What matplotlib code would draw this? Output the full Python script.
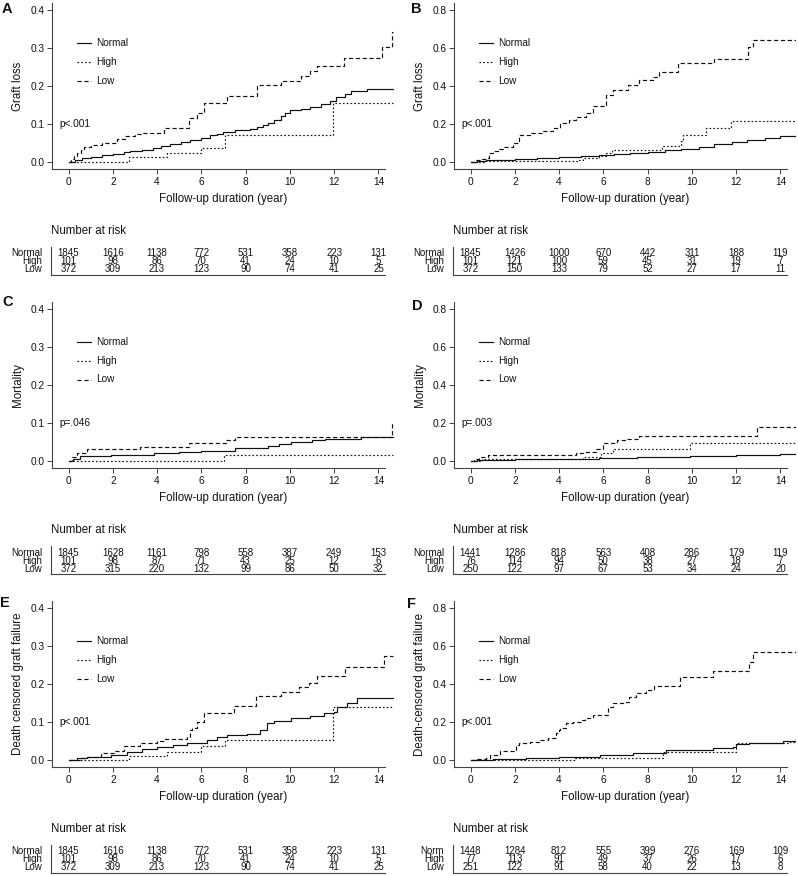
import matplotlib
matplotlib.use("Agg")
import matplotlib.pyplot as plt
from matplotlib import transforms
from matplotlib.lines import Line2D

plt.rcParams['font.family'] = ['Liberation Sans', 'DejaVu Sans']

# step curves: (year, cumulative incidence)
a_normal = [(0, 0), (0.3, 0.005), (0.6, 0.01), (1.0, 0.014), (1.5, 0.018), (2.0, 0.022), (2.5, 0.026),
            (2.8, 0.029), (3.3, 0.032), (3.8, 0.037), (4.2, 0.043), (4.6, 0.048), (5.1, 0.053),
            (5.5, 0.057), (6.0, 0.062), (6.4, 0.071), (6.7, 0.075), (7.0, 0.079), (7.5, 0.083),
            (8.2, 0.086), (8.5, 0.091), (8.8, 0.097), (9.0, 0.103), (9.3, 0.110), (9.6, 0.121),
            (9.8, 0.128), (10.0, 0.137), (10.5, 0.139), (10.9, 0.145), (11.4, 0.152), (11.8, 0.160),
            (12.1, 0.171), (12.5, 0.179), (12.75, 0.187), (13.5, 0.191), (14.65, 0.191)]
a_high = [(0, 0), (2.72, 0.012), (4.46, 0.023), (6.0, 0.036), (7.05, 0.071), (11.94, 0.154), (14.65, 0.154)]
a_low = [(0, 0), (0.1, 0.008), (0.25, 0.016), (0.4, 0.024), (0.55, 0.031), (0.72, 0.039), (1.0, 0.044),
         (1.5, 0.05), (2.2, 0.061), (2.57, 0.069), (3.0, 0.073), (3.3, 0.077), (4.3, 0.090),
         (5.44, 0.115), (5.81, 0.128), (6.11, 0.156), (7.17, 0.175), (8.52, 0.203), (9.58, 0.213),
         (10.48, 0.226), (10.93, 0.24), (11.23, 0.253), (12.43, 0.273), (14.17, 0.303),
         (14.62, 0.341), (14.65, 0.341)]

b_normal = [(0, 0), (0.3, 0.004), (0.7, 0.008), (1.2, 0.011), (2.0, 0.015), (3.0, 0.02), (4.0, 0.025),
            (5.0, 0.031), (5.8, 0.037), (6.5, 0.042), (7.2, 0.048), (8.0, 0.055), (8.8, 0.063),
            (9.5, 0.07), (10.3, 0.081), (11.0, 0.093), (11.8, 0.107), (12.5, 0.118), (13.3, 0.125),
            (14.0, 0.135), (14.7, 0.147)]
b_high = [(0, 0), (0.6, 0.006), (4.8, 0.012), (5.1, 0.02), (5.8, 0.03), (6.1, 0.045), (6.4, 0.063),
          (8.66, 0.086), (9.5, 0.112), (9.6, 0.142), (10.65, 0.177), (11.75, 0.216), (14.7, 0.216)]
b_low = [(0, 0), (0.2, 0.008), (0.5, 0.015), (0.75, 0.022), (0.85, 0.045), (1.0, 0.056), (1.3, 0.07),
         (1.5, 0.081), (1.91, 0.098), (2.21, 0.142), (2.67, 0.154), (3.27, 0.163), (3.72, 0.177),
         (4.02, 0.204), (4.47, 0.221), (4.77, 0.239), (5.22, 0.256), (5.52, 0.295), (6.13, 0.353),
         (6.42, 0.379), (7.10, 0.405), (7.63, 0.432), (8.23, 0.449), (8.53, 0.475), (9.36, 0.519),
         (11.02, 0.540), (12.53, 0.607), (12.75, 0.642), (14.7, 0.642)]

c_normal = [(0, 0), (0.2, 0.006), (0.54, 0.013), (1.9, 0.016), (3.85, 0.020), (5.0, 0.023), (6.0, 0.027),
            (7.5, 0.033), (9.0, 0.039), (9.5, 0.044), (10.03, 0.051), (11.0, 0.054), (11.6, 0.058),
            (13.2, 0.064), (14.65, 0.064)]
c_high = [(0, 0), (7.02, 0.016), (14.65, 0.016)]
c_low = [(0, 0), (0.15, 0.01), (0.39, 0.020), (0.84, 0.031), (3.25, 0.038), (5.44, 0.047), (7.1, 0.056),
         (7.5, 0.064), (14.62, 0.099), (14.65, 0.099)]

d_normal = [(0, 0), (0.3, 0.004), (0.7, 0.007), (2.0, 0.009), (4.0, 0.011), (5.8, 0.014), (7.5, 0.02),
            (9.9, 0.026), (12.0, 0.031), (14.0, 0.035), (14.7, 0.04)]
d_high = [(0, 0), (0.5, 0.009), (5.07, 0.023), (5.9, 0.041), (6.43, 0.062), (9.9, 0.093), (14.7, 0.093)]
d_low = [(0, 0), (0.15, 0.01), (0.4, 0.02), (0.78, 0.032), (4.77, 0.041), (5.22, 0.049), (5.67, 0.062),
         (6.0, 0.093), (6.6, 0.11), (7.03, 0.116), (7.63, 0.133), (12.95, 0.177), (14.7, 0.177)]

e_normal = [(0, 0), (0.4, 0.004), (0.84, 0.007), (1.9, 0.013), (2.66, 0.022), (3.3, 0.028), (4.0, 0.035),
            (4.7, 0.04), (5.36, 0.044), (6.27, 0.053), (6.7, 0.06), (7.17, 0.066), (8.07, 0.068),
            (8.67, 0.079), (8.97, 0.0965), (9.27, 0.103), (10.03, 0.110), (10.93, 0.116),
            (11.53, 0.123), (11.98, 0.127), (12.13, 0.140), (12.58, 0.151), (13.04, 0.162),
            (14.65, 0.162)]
e_high = [(0, 0), (2.72, 0.0105), (4.46, 0.022), (6.0, 0.037), (7.05, 0.053), (11.94, 0.140), (14.65, 0.140)]
e_low = [(0, 0), (0.5, 0.005), (0.84, 0.009), (1.45, 0.018), (2.05, 0.024), (2.5, 0.037), (3.25, 0.044),
         (4.0, 0.05), (4.3, 0.054), (5.36, 0.061), (5.5, 0.079), (5.6, 0.083), (5.81, 0.101),
         (6.11, 0.123), (7.47, 0.143), (8.45, 0.168), (9.58, 0.180), (10.4, 0.193), (10.86, 0.202),
         (11.23, 0.221), (12.5, 0.244), (14.25, 0.274), (14.65, 0.274)]

f_normal = [(0, 0), (1.0, 0.004), (2.5, 0.01), (4.0, 0.018), (5.83, 0.026), (7.34, 0.038), (8.84, 0.053),
            (10.95, 0.061), (11.85, 0.07), (12.0, 0.082), (12.6, 0.09), (14.1, 0.099), (14.7, 0.108)]
f_high = [(0, 0), (4.7, 0.012), (8.7, 0.044), (12.0, 0.091), (14.4, 0.095), (14.7, 0.095)]
f_low = [(0, 0), (0.3, 0.003), (0.71, 0.01), (0.86, 0.026), (1.31, 0.049), (2.06, 0.079), (2.21, 0.091),
         (2.67, 0.096), (3.12, 0.105), (3.5, 0.114), (3.87, 0.14), (4.0, 0.158), (4.02, 0.167),
         (4.32, 0.193), (4.62, 0.202), (4.99, 0.211), (5.15, 0.219), (5.52, 0.237), (6.2, 0.281),
         (6.42, 0.298), (7.03, 0.307), (7.18, 0.333), (7.48, 0.351), (7.93, 0.368), (8.31, 0.389),
         (9.44, 0.435), (10.94, 0.470), (12.57, 0.518), (12.75, 0.570), (14.7, 0.570)]

# number at risk at years 0,2,...,14
risk_years = [0, 2, 4, 6, 8, 10, 12, 14]
risk_a = [[1845, 1616, 1138, 772, 531, 358, 223, 131],
          [101, 98, 86, 70, 41, 24, 10, 5],
          [372, 309, 213, 123, 90, 74, 41, 25]]
risk_b = [[1845, 1426, 1000, 670, 442, 311, 188, 119],
          [101, 121, 100, 59, 45, 31, 19, 7],
          [372, 150, 133, 79, 52, 27, 17, 11]]
risk_c = [[1845, 1628, 1161, 798, 558, 387, 249, 153],
          [101, 98, 87, 71, 43, 25, 12, 6],
          [372, 315, 220, 132, 99, 86, 50, 32]]
risk_d = [[1441, 1286, 818, 563, 408, 286, 179, 119],
          [76, 114, 94, 50, 38, 27, 18, 7],
          [250, 122, 97, 67, 53, 34, 24, 20]]
risk_e = [[1845, 1616, 1138, 772, 531, 358, 223, 131],
          [101, 98, 86, 70, 41, 24, 10, 5],
          [372, 309, 213, 123, 90, 74, 41, 25]]
risk_f = [[1448, 1284, 812, 555, 399, 276, 169, 109],
          [77, 113, 91, 49, 37, 26, 17, 6],
          [251, 122, 91, 58, 40, 22, 13, 8]]

groups = ['Normal', 'High', 'Low']
xticks = [0, 2, 4, 6, 8, 10, 12, 14]

panels = [
    ('A', 0, 0, 'Graft loss', 0.4, 'p<.001', [a_normal, a_high, a_low], risk_a, groups),
    ('B', 1, 0, 'Graft loss', 0.8, 'p<.001', [b_normal, b_high, b_low], risk_b, groups),
    ('C', 0, 1, 'Mortality', 0.4, 'p=.046', [c_normal, c_high, c_low], risk_c, groups),
    ('D', 1, 1, 'Mortality', 0.8, 'p=.003', [d_normal, d_high, d_low], risk_d, groups),
    ('E', 0, 2, 'Death censored graft failure', 0.4, 'p<.001', [e_normal, e_high, e_low], risk_e, groups),
    ('F', 1, 2, 'Death-censored graft failure', 0.8, 'p<.001', [f_normal, f_high, f_low], risk_f,
     ['Norm', 'High', 'Low']),
]
letter_pos = {'A': (7, 9), 'B': (416, 9), 'C': (8, 302), 'D': (417, 306), 'E': (5, 603), 'F': (411, 604)}

W, H = 798, 876
styles = ['-', (0, (1.4, 1.8)), (0, (3.6, 2.2))]
PX = 22.14  # pixels per year
AXW, AXH = 342, 166
BLACK = '#111111'
GREY = '#444444'


def fx(px):
    return px / W


def fy(py):
    return 1 - py / H


fig = plt.figure(figsize=(W / 100, H / 100), dpi=100)

for letter, col, row, ylab, ymax, ptxt, curves, risk, rlabels in panels:
    L = [52, 454][col]
    R0 = row * 299
    ax = fig.add_axes([fx(L), fy(R0 + 3 + AXH), AXW / W, AXH / H])
    ppu = 152 / ymax  # pixels per unit on y
    ax.set_ylim(-7 / ppu, (AXH - 7) / ppu)
    x0 = -16.5 / PX
    ax.set_xlim(x0, x0 + AXW / PX)

    for data, ls in zip(curves, styles):
        t = [p[0] for p in data]
        v = [p[1] for p in data]
        ax.step(t, v, where='post', color=BLACK, lw=0.85, linestyle=ls)

    for s in ['top', 'right']:
        ax.spines[s].set_visible(False)
    for s in ['left', 'bottom']:
        ax.spines[s].set_color(GREY)
        ax.spines[s].set_linewidth(0.8)
    ax.spines['bottom'].set_bounds(x0, 14.3)

    ax.set_xticks(xticks)
    ax.set_xticklabels([str(x) for x in xticks])
    yt = [ymax * i / 4 for i in range(5)]
    ax.set_yticks(yt)
    ax.set_yticklabels(['%.1f' % y for y in yt])
    ax.tick_params(direction='out', length=3.6, width=0.7, colors=GREY,
                   labelcolor=BLACK, labelsize=7.3)
    ax.tick_params(axis='x', pad=2.3)
    ax.tick_params(axis='y', pad=1.5)

    # legend, drawn by hand in axes fraction
    for g, ls, off in zip(groups, styles, [43, 62, 80.5]):
        yy = (169 - off) / AXH
        ax.plot([24.5 / AXW, 38.5 / AXW], [yy, yy], transform=ax.transAxes,
                color=BLACK, lw=0.85, linestyle=ls)
        ax.text(44 / AXW, yy, g, transform=ax.transAxes, fontsize=7.2,
                va='center', ha='left', color=BLACK)

    ax.text(7 / AXW, ymax / 4, ptxt,
            transform=transforms.blended_transform_factory(ax.transAxes, ax.transData),
            fontsize=7.3, va='center', ha='left', color=BLACK)

    # labels
    fig.text(fx([18, 420][col]), fy(R0 + 86), ylab, rotation=90, ha='center', va='center',
             fontsize=8.3, color=BLACK)
    fig.text(fx(L + AXW / 2), fy(R0 + 199), 'Follow-up duration (year)', ha='center', va='center',
             fontsize=8.3, color=BLACK)
    lx, ly = letter_pos[letter]
    fig.text(fx(lx), fy(ly), letter, ha='center', va='center', fontsize=10.5,
             fontweight='bold', color=BLACK)

    # number at risk table
    fig.text(fx(L - 1), fy(R0 + 231), 'Number at risk', ha='left', va='center',
             fontsize=8.3, color=BLACK)
    tr = transforms.blended_transform_factory(ax.transData, fig.transFigure)
    for lab, counts, off in zip(rlabels, risk, [253.5, 261.5, 269.5]):
        yr = fy(R0 + off)
        fig.text(fx(L - 10), yr, lab, ha='right', va='center', fontsize=7, color=BLACK)
        for yrs, n in zip(risk_years, counts):
            ax.text(yrs, yr, str(n), transform=tr, ha='center', va='center', fontsize=7,
                    color=BLACK, clip_on=False)
    xr = L + 16.5 + 14.3 * PX
    fig.add_artist(Line2D([fx(L - 1), fx(L - 1)], [fy(R0 + 247), fy(R0 + 275)],
                          transform=fig.transFigure, color=GREY, lw=0.8))
    fig.add_artist(Line2D([fx(L - 1), fx(xr)], [fy(R0 + 275), fy(R0 + 275)],
                          transform=fig.transFigure, color=GREY, lw=0.8))

fig.savefig('out.png', dpi=100)
